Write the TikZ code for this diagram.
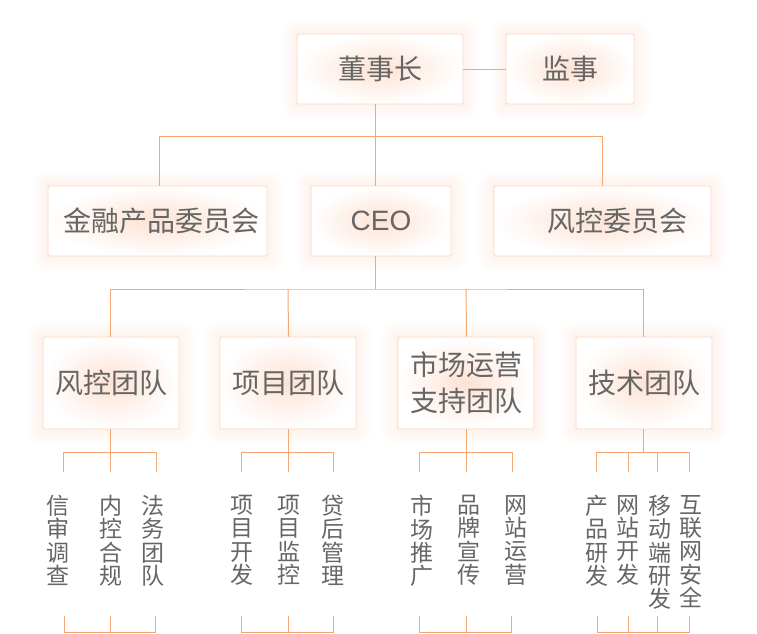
\documentclass[tikz,border=0pt]{standalone}
\usepackage{fontspec}
\setmainfont{Noto Sans CJK SC}
\newfontfamily\latinsans{Liberation Sans}
\usetikzlibrary{backgrounds}
\definecolor{txt}{HTML}{666666}
\definecolor{ln}{HTML}{F6A670}
\definecolor{bd}{HTML}{FBD5C3}
\definecolor{pc}{HTML}{FDE2D4}
\definecolor{gl}{HTML}{F8B796}
\begin{document}
\begin{tikzpicture}[x=1pt,y=-1pt,
  box/.style={draw=bd, line width=0.9pt, rounded corners=1.5pt, inner color=pc, outer color=white,
              text=txt, font=\fontsize{28}{36}\selectfont, align=center, inner sep=0pt},
  leaf/.style={text=txt, font=\fontsize{23}{23.3}\selectfont, align=center, inner sep=0pt, anchor=north},
  conn/.style={draw=ln, line width=1pt}]
\useasboundingbox (0,0) rectangle (757,633);
% boxes
\node[box, minimum width=166pt, minimum height=70pt] (dsz) at (380,69) {董事长};
\node[box, minimum width=128pt, minimum height=70pt] (js) at (570,69) {监事};
\node[box, minimum width=219pt, minimum height=70pt] (jr) at (157.5,221) {\hspace*{8pt}金融产品委员会};
\node[box, minimum width=140pt, minimum height=70pt] (ceo) at (381,221) {\latinsans CEO};
\node[box, minimum width=217pt, minimum height=70pt] (fk) at (602.5,221) {\hspace*{30pt}风控委员会};
\node[box, minimum width=136pt, minimum height=92pt] (t1) at (111,383) {风控团队};
\node[box, minimum width=136pt, minimum height=92pt] (t2) at (288,383) {项目团队};
\node[box, minimum width=136pt, minimum height=92pt] (t3) at (466,383) {市场运营\\支持团队};
\node[box, minimum width=136pt, minimum height=92pt] (t4) at (644,383) {技术团队};
% glow
\begin{scope}[on background layer]
\foreach \n in {dsz,js,jr,ceo,fk,t1,t2,t3,t4}{
  \foreach \r in {2,4,...,16}{
    \fill[gl, opacity=0.018, rounded corners=\r pt] ([shift={(-\r,\r)}]\n.south west) rectangle ([shift={(\r,-\r)}]\n.north east);
  }
}
\end{scope}
% leaves
\node[leaf] (l11) at (58.3,495) {信\\审\\调\\查};
\node[leaf] (l12) at (111,495) {内\\控\\合\\规};
\node[leaf] (l13) at (153.3,495) {法\\务\\团\\队};
\node[leaf] (l21) at (241.7,495) {项\\目\\开\\发};
\node[leaf] (l22) at (288.7,495) {项\\目\\监\\控};
\node[leaf] (l23) at (333.3,495) {贷\\后\\管\\理};
\node[leaf] (l31) at (421.7,495) {市\\场\\推\\广};
\node[leaf] (l32) at (469,495) {品\\牌\\宣\\传};
\node[leaf] (l33) at (516,495) {网\\站\\运\\营};
\node[leaf] (l41) at (596.7,495) {产\\品\\研\\发};
\node[leaf] (l42) at (628,495) {网\\站\\开\\发};
\node[leaf] (l43) at (660,495) {移\\动\\端\\研\\发};
\node[leaf] (l44) at (690.7,495) {互\\联\\网\\安\\全};
% connector coordinates
\coordinate (spine) at (375.5,0);
\coordinate (b1) at (159.5,136);
\coordinate (b2) at (602.5,136);
\coordinate (h2) at (375.5,289);
\coordinate (jt) at (0,452);
\coordinate (dt) at (0,472);
\coordinate (jb) at (0,632);
\coordinate (db) at (0,616);
% top connectors
\draw[conn] (dsz.east) -- (js.west);
\draw[conn] (dsz.south -| spine) -- (ceo.north -| spine);
\draw[conn] (jr.north -| b1) -- (b1) -- (b2) -- (fk.north -| b2);
\draw[conn] (ceo.south -| spine) -- (h2);
\draw[conn] (t1.north -| 110.5,0) |- (h2) -| (t4.north -| 643.5,0);
\draw[conn] (t2.north -| 288.5,0) -- (t2.north |- h2);
\draw[conn] (t3.north -| 466.5,0) -- (t3.north |- h2);
% group brackets (top)
\draw[conn] (t1.south -| 110.5,0) -- (jt -| 110.5,0);
\draw[conn] (dt -| 63.5,0) -- (jt -| 63.5,0) -- (jt -| 156.5,0) -- (dt -| 156.5,0);
\draw[conn] (jt -| 110.5,0) -- (dt -| 110.5,0);
\draw[conn] (t2.south -| 288.5,0) -- (dt -| 288.5,0);
\draw[conn] (dt -| 241.5,0) -- (jt -| 241.5,0) -- (jt -| 333.5,0) -- (dt -| 333.5,0);
\draw[conn] (t3.south -| 466.5,0) -- (dt -| 466.5,0);
\draw[conn] (dt -| 419.5,0) -- (jt -| 419.5,0) -- (jt -| 512.5,0) -- (dt -| 512.5,0);
\draw[conn] (t4.south -| 643.5,0) -- (jt -| 643.5,0);
\draw[conn] (dt -| 596.5,0) -- (jt -| 596.5,0) -- (jt -| 689.5,0) -- (dt -| 689.5,0);
\draw[conn] (jt -| 628.5,0) -- (dt -| 628.5,0);
\draw[conn] (jt -| 657.5,0) -- (dt -| 657.5,0);
% group brackets (bottom)
\draw[conn] (db -| 64,0) -- (jb -| 64,0) -- (jb -| 155.5,0) -- (db -| 155.5,0);
\draw[conn] (db -| 110.5,0) -- (jb -| 110.5,0);
\draw[conn] (db -| 241.5,0) -- (jb -| 241.5,0) -- (jb -| 333.5,0) -- (db -| 333.5,0);
\draw[conn] (db -| 288.5,0) -- (jb -| 288.5,0);
\draw[conn] (db -| 419.5,0) -- (jb -| 419.5,0) -- (jb -| 511.5,0) -- (db -| 511.5,0);
\draw[conn] (db -| 466.5,0) -- (jb -| 466.5,0);
\draw[conn] (db -| 597.5,0) -- (jb -| 597.5,0) -- (jb -| 689.5,0) -- (db -| 689.5,0);
\draw[conn] (db -| 628.5,0) -- (jb -| 628.5,0);
\draw[conn] (db -| 657.5,0) -- (jb -| 657.5,0);
\end{tikzpicture}
\end{document}
